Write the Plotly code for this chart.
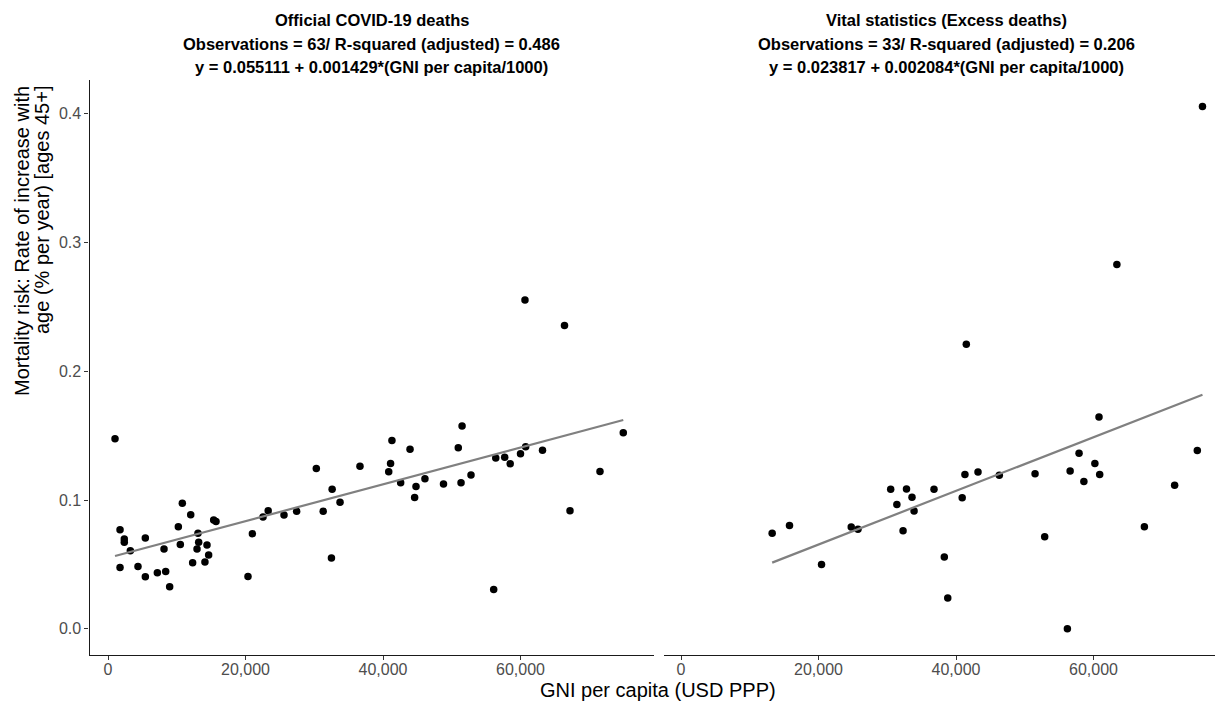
import plotly.graph_objects as go

W, H = 1215, 703
FONT = "Liberation Sans, Arial, sans-serif"

# Official COVID-19 deaths: GNI per capita (USD PPP) and rate of increase with age
gni_official = [
    1020, 1750, 2370, 2370, 3250, 1750, 4360, 5430, 5430, 7180,
    8390, 8970, 8150, 10230, 10810, 10520, 12030, 12310, 13090, 13190,
    12950, 14400, 14640, 14100, 15370, 15710, 21000, 20360, 22550, 23300,
    25600, 27440, 30300, 32600, 31300, 32500, 33750, 36650, 41300, 41100,
    40830, 42570, 43930, 44800, 44600, 46100, 48800, 50950, 51500, 51350,
    52800, 56400, 57700, 58500, 60000, 60750, 63200, 56100, 60650, 66400,
    67200, 71560, 74950,
]
rate_official = [
    0.1476, 0.0770, 0.0698, 0.0672, 0.0607, 0.0477, 0.0485, 0.0706, 0.0405, 0.0436,
    0.0446, 0.0327, 0.0620, 0.0794, 0.0975, 0.0656, 0.0887, 0.0514, 0.0742, 0.0672,
    0.0620, 0.0651, 0.0573, 0.0519, 0.0846, 0.0833, 0.0739, 0.0407, 0.0869, 0.0918,
    0.0885, 0.0913, 0.1245, 0.1084, 0.0913, 0.0550, 0.0983, 0.1263, 0.1463, 0.1284,
    0.1220, 0.1134, 0.1396, 0.1105, 0.1020, 0.1165, 0.1126, 0.1406, 0.1575, 0.1134,
    0.1196, 0.1328, 0.1333, 0.1282, 0.1360, 0.1414, 0.1388, 0.0306, 0.2555, 0.2356,
    0.0918, 0.1222, 0.1523,
]

# Vital statistics (excess deaths)
gni_vital = [
    13260, 15780, 20440, 24760, 25740, 30500, 32800, 33600, 31400, 33900,
    32300, 36800, 38300, 38800, 41300, 43200, 40900, 46300, 51500, 52900,
    56600, 57900, 58600, 60200, 60900, 60800, 56200, 67400, 71800, 75100,
    75850, 63400, 41500,
]
rate_vital = [
    0.0742, 0.0802, 0.0500, 0.0791, 0.0773, 0.1084, 0.1087, 0.1022, 0.0965, 0.0916,
    0.0763, 0.1084, 0.0558, 0.0239, 0.1198, 0.1219, 0.1019, 0.1193, 0.1204, 0.0716,
    0.1227, 0.1364, 0.1144, 0.1284, 0.1198, 0.1645, 0.0000, 0.0794, 0.1115, 0.1385,
    0.4057, 0.2830, 0.2210,
]

# Fitted linear models: y = intercept + slope * (GNI per capita / 1000)
fit_official = {"intercept": 0.055111, "slope": 0.001429}
fit_vital = {"intercept": 0.023817, "slope": 0.002084}

titles_official = [
    "Official COVID-19 deaths",
    "Observations = 63/ R-squared (adjusted) = 0.486",
    "y = 0.055111 + 0.001429*(GNI per capita/1000)",
]
titles_vital = [
    "Vital statistics (Excess deaths)",
    "Observations = 33/ R-squared (adjusted) = 0.206",
    "y = 0.023817 + 0.002084*(GNI per capita/1000)",
]

x_ticks = [0, 20000, 40000, 60000]
y_ticks = [0.0, 0.1, 0.2, 0.3, 0.4]


def px(x):
    return x / W


def py(y):
    return 1 - y / H


def fit_line(xs, fit):
    x0, x1 = min(xs), max(xs)
    return [x0, x1], [fit["intercept"] + fit["slope"] * x0 / 1000,
                      fit["intercept"] + fit["slope"] * x1 / 1000]


fig = go.Figure()

for xs, ys, fit, xa, ya in [
    (gni_official, rate_official, fit_official, "x", "y"),
    (gni_vital, rate_vital, fit_vital, "x2", "y2"),
]:
    fig.add_trace(go.Scatter(
        x=xs, y=ys, mode="markers", xaxis=xa, yaxis=ya,
        marker=dict(color="black", size=7.5, line=dict(width=0)),
        showlegend=False, hoverinfo="skip",
    ))
    lx, ly = fit_line(xs, fit)
    fig.add_trace(go.Scatter(
        x=lx, y=ly, mode="lines", xaxis=xa, yaxis=ya,
        line=dict(color="#808080", width=2.2),
        showlegend=False, hoverinfo="skip",
    ))

# pixel geometry of the two panels
left_l, left_r = 89.5, 654.0
right_l, right_r = 664.0, 1215.0
top, bottom = 80.0, 655.0
px_per_k = 6.875
zero_left, zero_right = 108.0, 681.0

xr_left = [(left_l - zero_left) / px_per_k * 1000, (left_r - zero_left) / px_per_k * 1000]
xr_right = [(right_l - zero_right) / px_per_k * 1000, (right_r - zero_right) / px_per_k * 1000]
yr = [-0.0203, 0.4263]

xaxis_common = dict(
    tickvals=x_ticks, tickformat=",d", ticks="outside", ticklen=4, tickwidth=1.1,
    tickcolor="#333333", showline=True, linecolor="#1a1a1a", linewidth=1.2,
    showgrid=False, zeroline=False, ticklabelstandoff=-4,
    tickfont=dict(family=FONT, size=16, color="#4D4D4D"),
)

fig.update_layout(
    width=W, height=H,
    margin=dict(l=0, r=0, t=0, b=0),
    paper_bgcolor="white", plot_bgcolor="white",
    xaxis=dict(xaxis_common, domain=[px(left_l), px(left_r)], range=xr_left, anchor="y"),
    xaxis2=dict(xaxis_common, domain=[px(right_l), px(right_r)], range=xr_right, anchor="y2"),
    yaxis=dict(
        domain=[py(bottom), py(top)], range=yr, anchor="x",
        tickvals=y_ticks, tickformat=".1f", ticks="outside", ticklen=4, tickwidth=1.1,
        tickcolor="#333333", showline=True, linecolor="#1a1a1a", linewidth=1.2,
        showgrid=False, zeroline=False,
        tickfont=dict(family=FONT, size=16, color="#4D4D4D"),
    ),
    yaxis2=dict(
        domain=[py(bottom), py(top)], range=yr, anchor="x2",
        showticklabels=False, ticks="", showline=False, showgrid=False, zeroline=False,
    ),
)

annotations = []
for lines, cx in [(titles_official, (left_l + left_r) / 2), (titles_vital, (664.0 + 1228.0) / 2)]:
    for text, cy in zip(lines, [20, 44, 67]):
        annotations.append(dict(
            text="<b>%s</b>" % text, x=px(cx), y=py(cy), xref="paper", yref="paper",
            xanchor="center", yanchor="middle", showarrow=False,
            font=dict(family=FONT, size=16.5, color="black"),
        ))

annotations.append(dict(
    text="GNI per capita (USD PPP)", x=px(658), y=py(690), xref="paper", yref="paper",
    xanchor="center", yanchor="middle", showarrow=False,
    font=dict(family=FONT, size=20, color="black"),
))

for text, cx in [("Mortality risk: Rate of increase with", 22), ("age (% per year) [ages 45+]", 42)]:
    annotations.append(dict(
        text=text, x=px(cx), y=py(top + 4), xref="paper", yref="paper",
        xanchor="center", yanchor="top", textangle=-90, showarrow=False,
        font=dict(family=FONT, size=20, color="black"),
    ))

fig.update_layout(annotations=annotations)

fig.write_html("out.html")
